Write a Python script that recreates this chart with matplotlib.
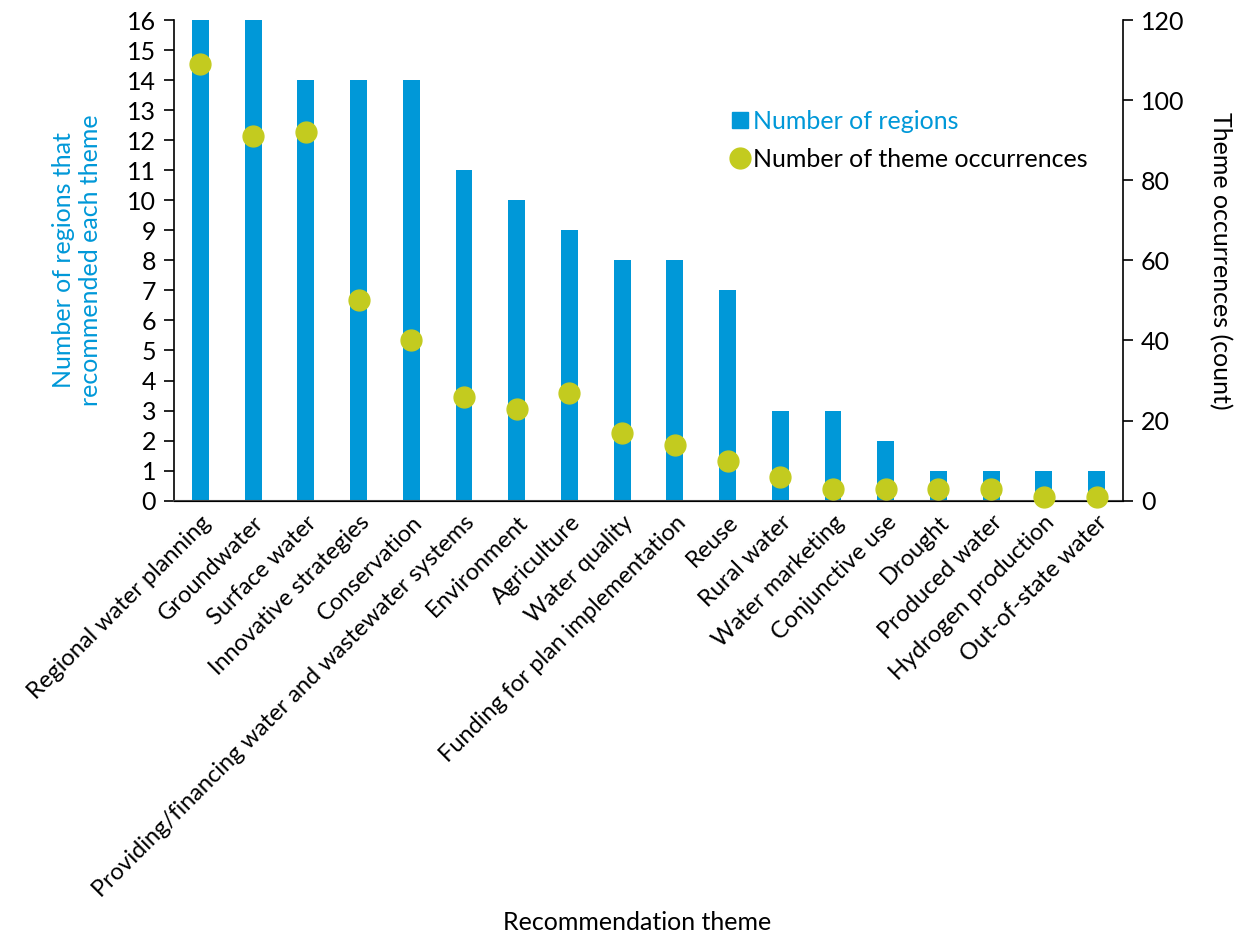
import matplotlib
matplotlib.use("Agg")
import matplotlib.pyplot as plt
from matplotlib.lines import Line2D

plt.rcParams["font.family"] = ["Lato", "DejaVu Sans"]

themes = [
    "Regional water planning", "Groundwater", "Surface water",
    "Innovative strategies", "Conservation",
    "Providing/financing water and wastewater systems", "Environment",
    "Agriculture", "Water quality", "Funding for plan implementation",
    "Reuse", "Rural water", "Water marketing", "Conjunctive use",
    "Drought", "Produced water", "Hydrogen production", "Out-of-state water",
]
regions = [16, 16, 14, 14, 14, 11, 10, 9, 8, 8, 7, 3, 3, 2, 1, 1, 1, 1]
occurrences = [109, 91, 92, 50, 40, 26, 23, 27, 17, 14, 10, 6, 3, 3, 3, 3, 1, 1]

blue = "#0098D8"
green = "#C3CB1F"
fs = 18

fig = plt.figure(figsize=(12.38, 9.39), dpi=100)
ax1 = fig.add_axes([0.1406, 0.4668, 0.7665, 0.5119])
ax2 = ax1.twinx()

x = range(len(themes))
ax1.bar(x, regions, width=0.32, color=blue)
ax2.scatter(x, occurrences, s=225, color=green, zorder=3, clip_on=False)

ax1.set_xlim(-0.5, len(themes) - 0.5)
ax1.set_ylim(0, 16)
ax1.set_yticks(range(0, 17))
ax2.set_ylim(0, 120)
ax2.set_yticks(range(0, 121, 20))

for ax in (ax1, ax2):
    ax.spines["top"].set_visible(False)
    ax.tick_params(axis="y", labelsize=fs, length=7, width=1.2,
                   direction="out", pad=6)
ax1.spines["right"].set_visible(False)
ax2.spines["left"].set_visible(False)
ax2.spines["right"].set_linewidth(1.2)
ax1.spines["left"].set_linewidth(1.2)
ax1.spines["bottom"].set_linewidth(1.5)
ax1.spines["bottom"].set_color("#444444")

ax1.set_xticks(list(x))
ax1.set_xticklabels(themes, rotation=45, ha="right", rotation_mode="anchor",
                    fontsize=17)
ax1.tick_params(axis="x", length=0, pad=8)

ax1.set_ylabel("Number of regions that\nrecommended each theme",
               color=blue, fontsize=fs, labelpad=18)
ax2.set_ylabel("Theme occurrences (count)", fontsize=fs, rotation=270,
               labelpad=34)
fig.text(0.515, 0.018, "Recommendation theme", fontsize=fs,
         ha="center", va="center")

handles = [
    Line2D([], [], marker="s", linestyle="", color=blue, markersize=12),
    Line2D([], [], marker="o", linestyle="", color=green, markersize=15),
]
leg = ax1.legend(handles, ["Number of regions", "Number of theme occurrences"],
                 loc="upper left", bbox_to_anchor=(0.565, 0.86), frameon=False,
                 fontsize=fs, handlelength=0.6, handletextpad=0.2,
                 labelspacing=0.6)
leg.get_texts()[0].set_color(blue)

fig.savefig("out.png", dpi=100)
